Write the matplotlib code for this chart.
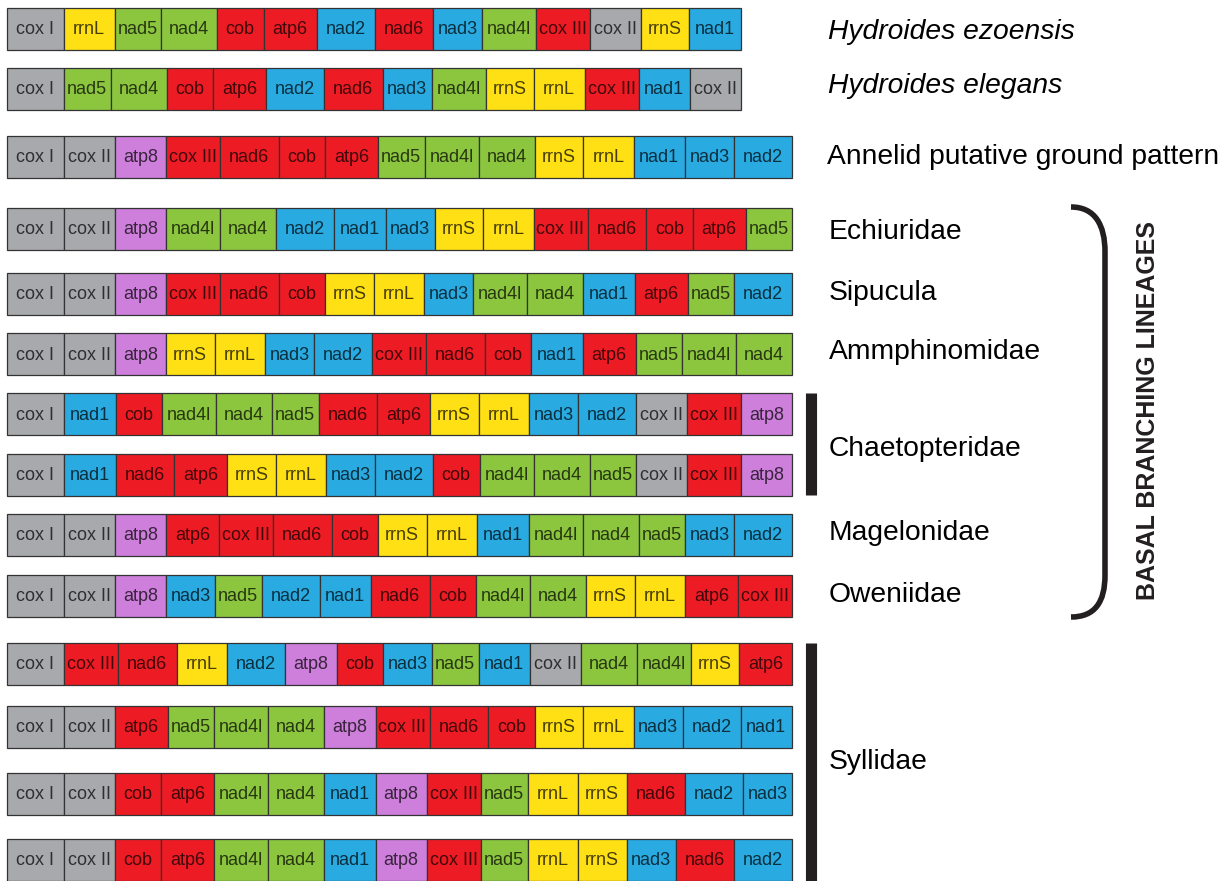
import matplotlib
matplotlib.use('Agg')
import matplotlib.pyplot as plt
from matplotlib.path import Path
from matplotlib.patches import PathPatch

plt.rcParams['font.family'] = ['Liberation Sans', 'DejaVu Sans']

# gene block lengths as drawn in the figure
GENE_LEN = {
    'cox I': 57, 'cox II': 50.5, 'atp8': 51.5, 'cox III': 54, 'nad6': 58.5,
    'cob': 46.5, 'atp6': 53, 'nad5': 46.5, 'nad4l': 54, 'nad4': 56,
    'rrnS': 48.5, 'rrnL': 50.5, 'nad1': 51.5, 'nad3': 49, 'nad2': 58,
}

GENE_COL = {
    'cox I': '#A7A9AC', 'cox II': '#A7A9AC',
    'atp8': '#CD7FDB',
    'cox III': '#ED1C24', 'nad6': '#ED1C24', 'cob': '#ED1C24', 'atp6': '#ED1C24',
    'nad5': '#8CC63F', 'nad4l': '#8CC63F', 'nad4': '#8CC63F',
    'rrnS': '#FFE014', 'rrnL': '#FFE014',
    'nad1': '#29ABE2', 'nad3': '#29ABE2', 'nad2': '#29ABE2',
}

ezoensis = ['cox I', 'rrnL', 'nad5', 'nad4', 'cob', 'atp6', 'nad2', 'nad6', 'nad3', 'nad4l', 'cox III', 'cox II', 'rrnS', 'nad1']
elegans = ['cox I', 'nad5', 'nad4', 'cob', 'atp6', 'nad2', 'nad6', 'nad3', 'nad4l', 'rrnS', 'rrnL', 'cox III', 'nad1', 'cox II']
ground = ['cox I', 'cox II', 'atp8', 'cox III', 'nad6', 'cob', 'atp6', 'nad5', 'nad4l', 'nad4', 'rrnS', 'rrnL', 'nad1', 'nad3', 'nad2']
echiuridae = ['cox I', 'cox II', 'atp8', 'nad4l', 'nad4', 'nad2', 'nad1', 'nad3', 'rrnS', 'rrnL', 'cox III', 'nad6', 'cob', 'atp6', 'nad5']
sipucula = ['cox I', 'cox II', 'atp8', 'cox III', 'nad6', 'cob', 'rrnS', 'rrnL', 'nad3', 'nad4l', 'nad4', 'nad1', 'atp6', 'nad5', 'nad2']
amphinomidae = ['cox I', 'cox II', 'atp8', 'rrnS', 'rrnL', 'nad3', 'nad2', 'cox III', 'nad6', 'cob', 'nad1', 'atp6', 'nad5', 'nad4l', 'nad4']
chaeto1 = ['cox I', 'nad1', 'cob', 'nad4l', 'nad4', 'nad5', 'nad6', 'atp6', 'rrnS', 'rrnL', 'nad3', 'nad2', 'cox II', 'cox III', 'atp8']
chaeto2 = ['cox I', 'nad1', 'nad6', 'atp6', 'rrnS', 'rrnL', 'nad3', 'nad2', 'cob', 'nad4l', 'nad4', 'nad5', 'cox II', 'cox III', 'atp8']
magelonidae = ['cox I', 'cox II', 'atp8', 'atp6', 'cox III', 'nad6', 'cob', 'rrnS', 'rrnL', 'nad1', 'nad4l', 'nad4', 'nad5', 'nad3', 'nad2']
oweniidae = ['cox I', 'cox II', 'atp8', 'nad3', 'nad5', 'nad2', 'nad1', 'nad6', 'cob', 'nad4l', 'nad4', 'rrnS', 'rrnL', 'atp6', 'cox III']
syll1 = ['cox I', 'cox III', 'nad6', 'rrnL', 'nad2', 'atp8', 'cob', 'nad3', 'nad5', 'nad1', 'cox II', 'nad4', 'nad4l', 'rrnS', 'atp6']
syll2 = ['cox I', 'cox II', 'atp6', 'nad5', 'nad4l', 'nad4', 'atp8', 'cox III', 'nad6', 'cob', 'rrnS', 'rrnL', 'nad3', 'nad2', 'nad1']
syll3 = ['cox I', 'cox II', 'cob', 'atp6', 'nad4l', 'nad4', 'nad1', 'atp8', 'cox III', 'nad5', 'rrnL', 'rrnS', 'nad6', 'nad2', 'nad3']
syll4 = ['cox I', 'cox II', 'cob', 'atp6', 'nad4l', 'nad4', 'nad1', 'atp8', 'cox III', 'nad5', 'rrnL', 'rrnS', 'nad3', 'nad6', 'nad2']

rows = [ezoensis, elegans, ground, echiuridae, sipucula, amphinomidae, chaeto1, chaeto2,
        magelonidae, oweniidae, syll1, syll2, syll3, syll4]

# layout (pixel units of the output image)
ROW_Y = [29, 88.5, 156.5, 229, 293.5, 354, 414, 475, 535, 595.5, 663.5, 727, 793.5, 859.5]
ROW_H = 42
X0 = 7

fig = plt.figure(figsize=(12.22, 8.81), dpi=100)
ax = fig.add_axes([0, 0, 1, 1])
ax.set_xlim(0, 1222)
ax.set_ylim(881, 0)
ax.axis('off')

for genes, y in zip(rows, ROW_Y):
    lefts = []
    x = X0
    for g in genes:
        lefts.append(x)
        x += GENE_LEN[g]
    widths = [GENE_LEN[g] for g in genes]
    ax.barh([y] * len(genes), widths, left=lefts, height=ROW_H,
            color=[GENE_COL[g] for g in genes], edgecolor='#333333', linewidth=0.9)
    for g, l, w in zip(genes, lefts, widths):
        ax.text(l + w / 2, y + 1, g, ha='center', va='center', fontsize=13,
                color='black', alpha=0.72)

# row labels
ax.text(828, 32, 'Hydroides ezoensis', fontsize=20.3, style='italic', va='center')
ax.text(828, 86, 'Hydroides elegans', fontsize=20.3, style='italic', va='center')
ax.text(827, 157, 'Annelid putative ground pattern', fontsize=20.3, va='center')
names = ['Echiuridae', 'Sipucula', 'Ammphinomidae', 'Chaetopteridae', 'Magelonidae', 'Oweniidae', 'Syllidae']
name_y = [232, 293, 352, 449, 533, 595, 762]
for n, yy in zip(names, name_y):
    ax.text(829, yy, n, fontsize=20.3, va='center')

# group bars
ax.plot([810.5, 810.5], [393, 495], color='#231F20', lw=8, solid_capstyle='butt')
ax.plot([810.5, 810.5], [643, 881], color='#231F20', lw=8, solid_capstyle='butt')

# bracket
verts = [(1071, 207), (1095, 207), (1105, 225), (1105, 252),
         (1105, 575),
         (1105, 602), (1095, 617), (1071, 617)]
codes = [Path.MOVETO, Path.CURVE4, Path.CURVE4, Path.CURVE4,
         Path.LINETO,
         Path.CURVE4, Path.CURVE4, Path.CURVE4]
ax.add_patch(PathPatch(Path(verts, codes), fill=False, lw=4, edgecolor='#231F20'))

ax.text(1148, 410, 'BASAL BRANCHING LINEAGES', rotation=90, fontsize=18,
        fontweight='bold', ha='center', va='center', color='#231F20')

fig.savefig('out.png', dpi=100)
